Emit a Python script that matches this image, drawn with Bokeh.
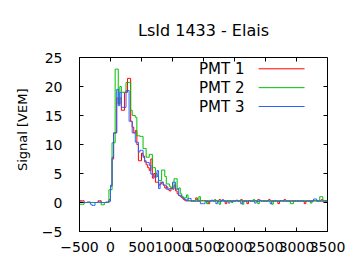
import numpy as np
from bokeh.plotting import figure
from bokeh.models import FixedTicker, Range1d, Title
from bokeh.embed import file_html
from bokeh.resources import INLINE
from bokeh.core.properties import value

# ---- data ----
title_text = "LsId 1433 - Elais"
y_label = "Signal [VEM]"
bin_start = -500      # ns, start of the first bin
bin_width = 25        # ns
x_ticks = [-500, 0, 500, 1000, 1500, 2000, 2500, 3000, 3500]
y_ticks = [-5, 0, 5, 10, 15, 20, 25]
series_names = ["PMT 1", "PMT 2", "PMT 3"]
series_colors = ["#ff0000", "#00c000", "#2f5fff"]

pmt1 = [0.3, 0.3, 0.3, 0.0, 0.0, 0.0, 0.0, 0.0, 0.0, 0.0, 0.0, 0.0, 0.3, 0.3, 0.0, 0.0, 0.0, 0.0, 0.0, 0.5,
        2.8, 7.5, 12.0, 12.0, 18.0, 17.0, 18.0, 15.9, 15.9, 19.0, 19.0, 21.4, 21.4, 14.0, 13.0, 12.0, 12.4, 10.0, 7.2, 7.2,
        8.5, 8.0, 7.0, 6.5, 6.0, 5.5, 7.5, 4.2, 5.0, 3.5, 3.5, 3.0, 3.2, 3.5, 3.0, 2.5, 2.7, 2.2, 2.0, 2.5,
        2.3, 3.0, 2.0, 1.5, 1.2, 1.0, 0.8, 0.5, 0.3, 0.3, 0.3, 0.3, 0.3, 0.3, 0.3, 0.8, 0.3, 0.3, 0.3, 0.3,
        0.3, 0.3, 0.3, -0.2, 0.3, 0.3, 0.3, 0.3, 0.3, 0.3, 0.5, 0.3, 0.3, 0.3, -0.2, 0.3, 0.3, 0.3, 0.3, 0.3,
        0.3, 0.3, 0.3, 0.3, 0.5, 0.3, 0.3, 0.3, -0.2, 0.3, 0.3, 0.3, 0.3, 0.3, 0.3, 0.5, 0.3, 0.3, 0.3, 0.3,
        0.3, 0.3, 0.5, 0.3, 0.3, 0.3, 0.3, 0.3, -0.2, 0.3, 0.3, 0.3, 0.5, 0.3, 0.3, 0.3, 0.3, 0.3, 0.3, 0.3,
        0.3, 0.3, 0.3, 0.3, 0.3, -0.2, 0.3, 0.3, 0.3, 0.3, 0.3, 0.3, 0.3, 0.3, 0.3, 0.3, 0.5, 0.3, 0.3, 0.3]

pmt2 = [-0.3, -0.3, -0.3, 0.0, 0.0, 0.0, 0.0, 0.0, 0.0, 0.0, 0.0, 0.0, 0.0, 0.0, -0.4, -0.4, 0.0, 0.0, 0.0, 2.2,
        2.2, 10.3, 10.3, 23.0, 23.0, 17.0, 20.0, 19.0, 19.0, 19.0, 20.7, 20.7, 20.7, 15.9, 15.0, 15.0, 14.7, 11.5, 11.5, 11.4,
        11.4, 9.3, 9.3, 7.8, 7.8, 8.3, 8.3, 6.0, 6.0, 5.0, 4.5, 3.8, 3.8, 5.6, 5.6, 4.5, 3.2, 3.2, 2.8, 2.5,
        2.5, 4.1, 4.1, 2.3, 2.5, 1.5, 1.0, 0.8, 0.8, 1.3, 0.3, 0.3, 0.3, 0.3, 0.3, 0.5, 0.3, 1.0, 0.3, 0.3,
        0.3, 0.3, -0.2, 0.3, 0.3, 0.3, 0.3, 0.5, 0.3, 0.3, -0.3, 0.3, 0.3, 0.3, 0.3, 0.3, 0.3, 0.3, 0.0, 0.3,
        0.3, 0.3, 0.3, 0.3, 0.3, -0.3, 0.3, 0.3, 0.3, 0.3, 0.3, 0.3, 0.5, 0.3, 0.3, -0.2, 0.3, 0.3, 0.3, 0.3,
        0.3, 0.3, 0.3, 0.3, -0.3, 0.3, 0.3, 0.3, 0.3, 0.3, 0.3, 0.3, 0.3, 0.3, 0.3, 0.3, -0.2, -0.2, 0.3, 0.3,
        0.3, 0.3, 0.3, 0.3, 0.3, 0.3, 0.3, 0.3, 0.3, -0.1, 0.3, 0.3, 0.3, 0.3, 0.3, 1.0, 1.0, 0.3, 0.3, 0.3]

pmt3 = [0.1, 0.1, 0.0, 0.0, 0.0, 0.1, 0.1, -0.3, -0.5, -0.5, 0.0, 0.0, 0.1, 0.1, 0.0, 0.0, 0.0, 0.1, 0.1, 0.2,
        3.0, 7.8, 12.0, 12.0, 19.5, 16.7, 19.0, 16.4, 16.4, 16.4, 19.3, 19.3, 14.0, 14.0, 12.0, 12.0, 10.4, 10.4, 8.7, 9.0,
        9.0, 7.8, 7.2, 6.9, 6.9, 6.4, 4.9, 4.9, 4.4, 4.4, 5.5, 2.4, 3.5, 3.5, 3.0, 3.0, 2.3, 2.3, 2.4, 2.4,
        3.5, 3.5, 2.3, 2.3, 1.2, 1.2, 0.8, 0.7, 0.5, 0.3, 0.7, 0.7, 0.2, 0.2, 0.2, 0.2, 0.2, 0.2, -0.2, -0.2,
        -0.2, 0.2, 0.2, 0.2, 0.2, 0.4, 0.2, 0.2, -0.2, 0.2, 0.2, 0.2, 0.5, 0.2, 0.2, 0.2, -0.1, 0.2, 0.2, 0.2,
        0.2, 0.4, 0.2, 0.2, -0.2, 0.2, 0.2, 0.2, 0.2, 0.3, 0.2, 0.2, 0.2, -0.1, 0.2, 0.2, 0.4, 0.2, 0.2, 0.2,
        0.2, 0.2, 0.2, -0.2, 0.2, 0.2, 0.2, 0.2, 0.2, 0.2, 0.3, 0.2, 0.2, 0.2, 0.2, 0.2, 0.2, 0.2, 0.2, 0.2,
        0.2, 0.2, 0.2, 0.2, 0.2, 0.2, 0.2, 0.2, 0.2, 0.2, 0.2, 0.6, 0.6, 0.2, 0.2, 0.2, 0.2, 0.2, 0.2, 0.2]

series = [pmt1, pmt2, pmt3]

FONT = "DejaVu Sans"
X_MIN, X_MAX = -500, 3500
Y_MIN, Y_MAX = -5, 25
FRAME_W, FRAME_H = 248.0, 174.0   # pixels
px_x = (X_MAX - X_MIN) / FRAME_W   # data units per pixel
px_y = (Y_MAX - Y_MIN) / FRAME_H

p = figure(width=360, height=270, output_backend="svg", toolbar_location=None,
           x_range=Range1d(X_MIN, X_MAX), y_range=Range1d(Y_MIN, Y_MAX),
           min_border_left=79, min_border_right=33, min_border_top=57, min_border_bottom=39)
p.background_fill_color = "white"
p.border_fill_color = "white"
p.outline_line_color = "black"
p.outline_line_width = 1
p.xgrid.visible = False
p.ygrid.visible = False

p.title.text = title_text
p.title.align = "center"
p.title.text_font = FONT
p.title.text_font_size = "16px"
p.title.text_font_style = "normal"
p.title.text_color = "#000000"
p.title.standoff = 35

p.xaxis.ticker = FixedTicker(ticks=x_ticks)
p.yaxis.ticker = FixedTicker(ticks=y_ticks)
for ax in p.axis:
    ax.major_tick_in = 4
    ax.major_tick_out = 0
    ax.minor_tick_line_color = None
    ax.axis_line_color = "black"
    ax.major_tick_line_color = "black"
    ax.major_label_text_font = FONT
    ax.major_label_text_font_size = "14px"
    ax.major_label_text_color = "#000000"
p.xaxis.major_label_standoff = 10
p.yaxis.major_label_standoff = 17

# y axis title, placed toward the top as in the reference
ytitle = Title(text=y_label, align="right", offset=31, standoff=18,
               text_font=FONT, text_font_size="13px", text_font_style="normal",
               text_color="#000000")
p.add_layout(ytitle, "left")

# mirrored inward ticks on the top and right borders
p.segment(x0=x_ticks, y0=[Y_MAX] * len(x_ticks), x1=x_ticks, y1=[Y_MAX - 4 * px_y] * len(x_ticks),
          line_color="black", line_width=1)
p.segment(x0=[X_MAX] * len(y_ticks), y0=y_ticks, x1=[X_MAX - 4 * px_x] * len(y_ticks), y1=y_ticks,
          line_color="black", line_width=1)

n = len(pmt1)
edges = bin_start + bin_width * np.arange(n + 1)
for vals, color in zip(series, series_colors):
    p.step(x=edges, y=list(vals) + [vals[-1]], mode="after",
           line_color=color, line_width=1)

# legend drawn gnuplot-style: label on the left, sample line on the right
legend_y = [23.05, 19.8, 16.55]
legend_text_x = 2160
legend_line_x0 = 2390
legend_line_x1 = 3130
p.text(x=[legend_text_x] * 3, y=legend_y, text=series_names,
       text_align="right", text_baseline="middle",
       text_font=value(FONT), text_font_size="15px", text_color="#000000")
p.segment(x0=[legend_line_x0] * 3, y0=legend_y, x1=[legend_line_x1] * 3, y1=legend_y,
          line_color=series_colors, line_width=1)

open("out.html", "w").write(file_html(p, INLINE))
